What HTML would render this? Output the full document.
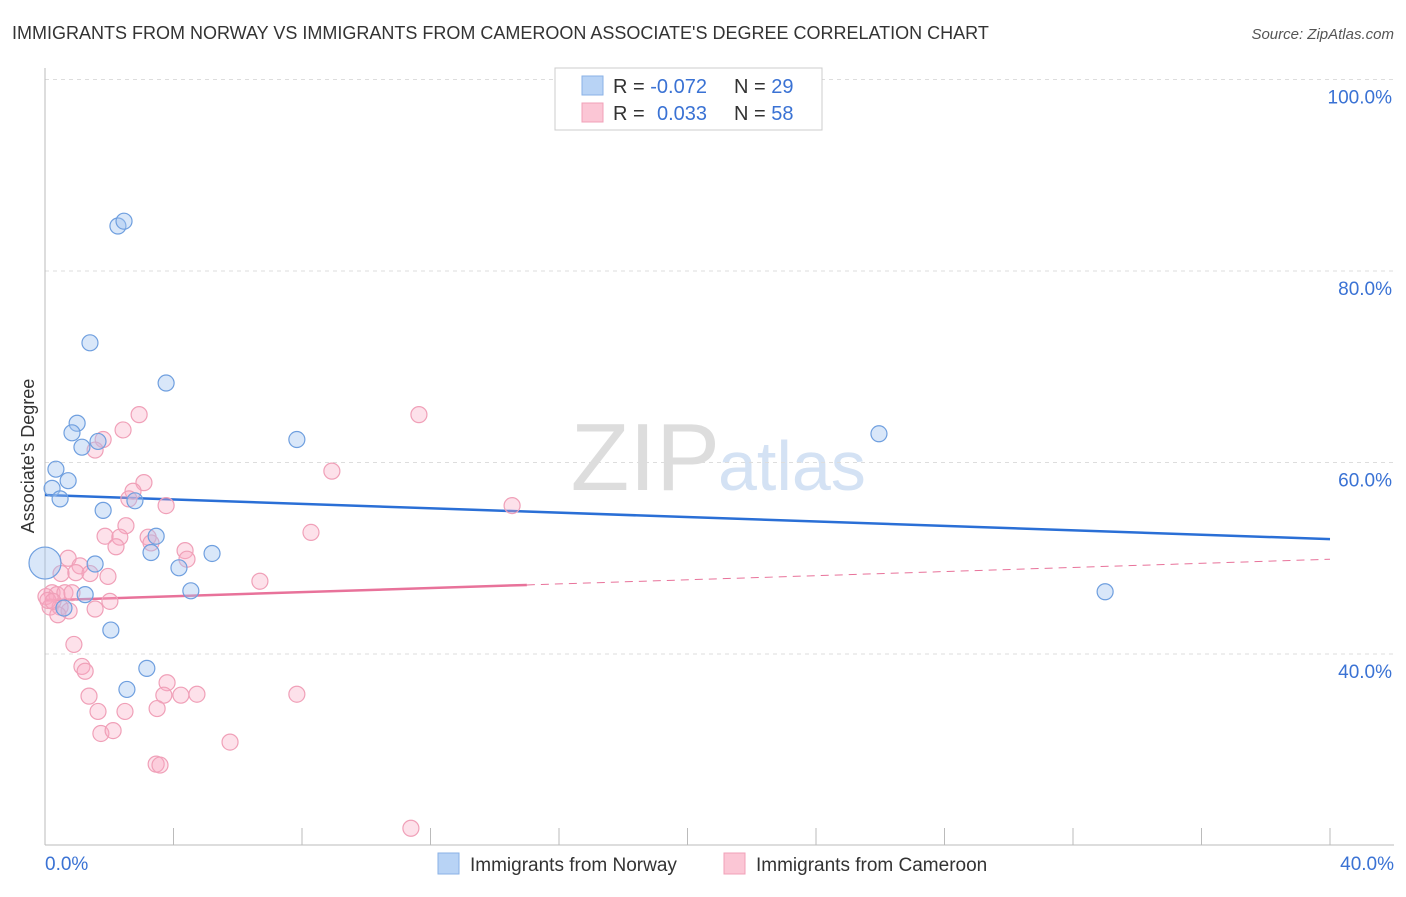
<!DOCTYPE html>
<html><head><meta charset="utf-8"><style>
body{margin:0;background:#fff;font-family:"Liberation Sans",sans-serif;}
svg text{font-family:"Liberation Sans",sans-serif;}
</style></head><body>
<svg id="chart" width="1406" height="892" xmlns="http://www.w3.org/2000/svg">
<text x="12" y="39" font-size="18" fill="#333">IMMIGRANTS FROM NORWAY VS IMMIGRANTS FROM CAMEROON ASSOCIATE'S DEGREE CORRELATION CHART</text>
<text x="1394" y="39" font-size="15" font-style="italic" fill="#555" text-anchor="end">Source: ZipAtlas.com</text>
<text x="720" y="490" font-size="96" fill="#ddd" text-anchor="end" font-family="Liberation Serif">ZIP</text>
<text x="718" y="490" font-size="70" fill="#d4e2f4">atlas</text>
<text transform="translate(34,456) rotate(-90)" font-size="18" fill="#333" text-anchor="middle">Associate's Degree</text>
<g id="grid"></g><g id="axes"></g><g id="lines"></g><g id="points"></g>
<g>
<rect x="555" y="68" width="267" height="62" fill="#fff" stroke="#ccc"/>
<rect x="582" y="76" width="21" height="19" fill="#b8d3f5" stroke="#8ab1e6"/>
<rect x="582" y="103" width="21" height="19" fill="#fbc6d5" stroke="#f0a0b8"/>
<text x="613" y="93" font-size="20" fill="#333">R = <tspan fill="#3a72d4">-0.072</tspan></text>
<text x="734" y="93" font-size="20" fill="#333">N = <tspan fill="#3a72d4">29</tspan></text>
<text x="613" y="120" font-size="20" fill="#333">R = <tspan fill="#3a72d4" x="657">0.033</tspan></text>
<text x="734" y="120" font-size="20" fill="#333">N = <tspan fill="#3a72d4">58</tspan></text>
</g>
<g>
<rect x="438" y="853" width="21" height="21" fill="#b8d3f5" stroke="#8ab1e6"/>
<text x="470" y="871" font-size="19" fill="#333">Immigrants from Norway</text>
<rect x="724" y="853" width="21" height="21" fill="#fbc6d5" stroke="#f0a0b8"/>
<text x="756" y="871" font-size="19" fill="#333">Immigrants from Cameroon</text>
</g>
</svg>
<script>
const yTicks=[40,60,80,100];
const yTickLabels=["40.0%","60.0%","80.0%","100.0%"];
const xTickLabels=["0.0%","40.0%"];
const norwayX=[0.0,2.27,2.46,1.40,3.77,1.00,0.84,1.65,1.15,7.84,25.96,0.34,0.72,0.22,0.47,2.80,1.81,3.46,3.30,1.56,5.20,4.17,1.25,4.54,0.59,2.05,3.17,2.55,33.0];
const norwayY=[49.5,84.7,85.2,72.5,68.3,64.1,63.1,62.2,61.6,62.4,63.0,59.3,58.1,57.3,56.2,56.0,55.0,52.3,50.6,49.4,50.5,49.0,46.2,46.6,44.8,42.5,38.5,36.3,46.5];
const camX=[2.93,11.64,2.43,1.81,1.56,8.93,3.08,2.74,2.61,3.77,14.54,2.52,1.87,2.33,3.21,8.28,3.30,2.21,4.36,4.42,0.72,1.09,0.50,0.96,1.40,1.96,6.69,0.22,0.37,0.62,0.03,0.84,2.02,0.16,0.47,0.75,1.56,0.40,0.90,1.15,1.25,3.80,1.37,3.70,4.23,4.73,7.84,1.65,2.49,3.49,1.74,2.12,5.76,3.46,3.58,11.39,0.09,0.25];
const camY=[65.0,65.0,63.4,62.4,61.3,59.1,57.9,57.0,56.2,55.5,55.5,53.4,52.3,52.2,52.2,52.7,51.6,51.2,50.8,49.9,50.0,49.2,48.4,48.5,48.4,48.1,47.6,46.4,46.2,46.4,46.0,46.4,45.5,44.9,44.9,44.5,44.7,44.1,41.0,38.7,38.2,37.0,35.6,35.7,35.7,35.8,35.8,34.0,34.0,34.3,31.7,32.0,30.8,28.5,28.4,21.8,45.6,45.5];
const norwayFit=[56.6,52.0];
const camFit=[45.6,49.9];
const camSolidEnd=15;
const NS="http://www.w3.org/2000/svg";
const X=v=>45+v*32.125, Y=v=>654-(v-40)*9.575;
function mk(tag,attrs,parent){const e=document.createElementNS(NS,tag);for(const k in attrs)e.setAttribute(k,attrs[k]);document.getElementById(parent).appendChild(e);return e;}
yTicks.forEach((t,i)=>{
 const g=mk('line',{x1:45,x2:1394,y1:Y(t),y2:Y(t),stroke:'#ddd','stroke-dasharray':'4,4'},'grid');
 
 
 const tx=mk('text',{x:1392,y:Y(t)+24,'font-size':19,fill:'#3a72d4','text-anchor':'end'},'axes');
 tx.textContent=yTickLabels[i];
 
 
});
const ax=mk('line',{x1:45,x2:1394,y1:845,y2:845,stroke:'#bbb'},'axes');


const ay=mk('line',{x1:45,x2:45,y1:68,y2:845,stroke:'#bbb'},'axes');


for(let i=0;i<=10;i++){
 const t=mk('line',{x1:X(i*4),x2:X(i*4),y1:828,y2:845,stroke:'#bbb'},'axes');
 
 
}
[[0,'start',45],[40,'end',1394]].forEach((p,i)=>{
 const tx=mk('text',{x:p[2],y:870,'font-size':19,fill:'#3a72d4','text-anchor':p[1]},'axes');
 tx.textContent=xTickLabels[i];
 
 
});
const cy=x=>camFit[0]+(camFit[1]-camFit[0])*x/40;
let l1=mk('line',{x1:X(0),y1:Y(norwayFit[0]),x2:X(40),y2:Y(norwayFit[1]),stroke:'#2a6fd6','stroke-width':2.5},'lines');


let l2=mk('line',{x1:X(0),y1:Y(cy(0)),x2:X(camSolidEnd),y2:Y(cy(camSolidEnd)),stroke:'#e8729a','stroke-width':2.5},'lines');


let l3=mk('line',{x1:X(camSolidEnd),y1:Y(cy(camSolidEnd)),x2:X(40),y2:Y(cy(40)),stroke:'#e8729a','stroke-width':1,'stroke-dasharray':'8,6'},'lines');


camX.forEach((x,i)=>{
 const c=mk('circle',{cx:X(x),cy:Y(camY[i]),r:8,fill:'rgba(248,170,195,0.35)',stroke:'#f0a0b8','stroke-width':1.2},'points');
 
 
});
norwayX.forEach((x,i)=>{
 const c=mk('circle',{cx:X(x),cy:Y(norwayY[i]),r:i===0?16:8,fill:'rgba(160,195,240,0.4)',stroke:'#6f9fdf','stroke-width':1.2},'points');
 
 
});
</script>
</body></html>
